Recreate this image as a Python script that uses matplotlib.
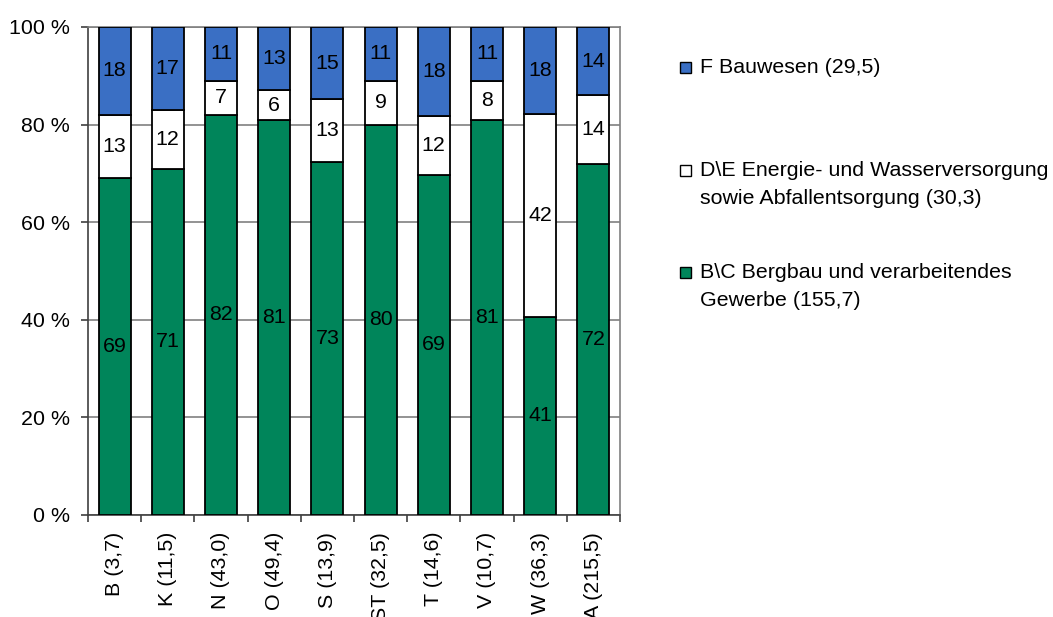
import matplotlib
matplotlib.use("Agg")
import matplotlib.pyplot as plt
from matplotlib.patches import Rectangle
import numpy as np

plt.rcParams['font.family'] = ['Liberation Sans', 'DejaVu Sans']

categories = ["B (3,7)", "K (11,5)", "N (43,0)", "O (49,4)", "S (13,9)",
              "ST (32,5)", "T (14,6)", "V (10,7)", "W (36,3)", "A (215,5)"]
bc_values = [69, 71, 82, 81, 73, 80, 69, 81, 41, 72]
de_values = [13, 12, 7, 6, 13, 9, 12, 8, 42, 14]
f_values = [18, 17, 11, 13, 15, 11, 18, 11, 18, 14]
series_labels = ["F Bauwesen (29,5)",
                 "D\\E Energie- und Wasserversorgung\nsowie Abfallentsorgung (30,3)",
                 "B\\C Bergbau und verarbeitendes\nGewerbe (155,7)"]
y_ticks = [0, 20, 40, 60, 80, 100]
y_tick_labels = ["0 %", "20 %", "40 %", "60 %", "80 %", "100 %"]

green = "#00855A"
blue = "#3A6FC4"
white = "#FFFFFF"
fs = 15.4

W, H = 1053, 617
fig = plt.figure(figsize=(W / 100, H / 100), dpi=100)
ax = fig.add_axes([88 / W, (H - 515) / H, (620 - 88) / W, (515 - 27) / H])

bc = np.array(bc_values, float)
de = np.array(de_values, float)
ff = np.array(f_values, float)
tot = bc + de + ff
bcp, dep, ffp = bc / tot * 100, de / tot * 100, ff / tot * 100
x = np.arange(len(categories))
bw = 0.6

ax.bar(x, bcp, bw, color=green, edgecolor="black", linewidth=1.3, zorder=3)
ax.bar(x, dep, bw, bottom=bcp, color=white, edgecolor="black", linewidth=1.3, zorder=3)
ax.bar(x, ffp, bw, bottom=bcp + dep, color=blue, edgecolor="black", linewidth=1.3, zorder=3)

for i in range(len(x)):
    ax.text(x[i], bcp[i] / 2, f"{bc_values[i]}", ha="center", va="center", fontsize=fs, zorder=4)
    ax.text(x[i], bcp[i] + dep[i] / 2, f"{de_values[i]}", ha="center", va="center", fontsize=fs, zorder=4)
    ax.text(x[i], bcp[i] + dep[i] + ffp[i] / 2, f"{f_values[i]}", ha="center", va="center", fontsize=fs, zorder=4)

ax.set_xlim(-0.5, len(categories) - 0.5)
ax.set_ylim(0, 100)
ax.set_yticks(y_ticks)
ax.set_yticklabels(y_tick_labels, fontsize=fs)
ax.yaxis.grid(True, color="#808080", linewidth=1.2, zorder=0)
ax.tick_params(axis="y", length=5, width=1.2, color="#404040", pad=8)

ax.set_xticks(x)
ax.set_xticklabels(categories, rotation=90, fontsize=fs, va="top")
ax.tick_params(axis="x", which="major", length=0, pad=12)
ax.set_xticks(np.arange(-0.5, len(categories), 1), minor=True)
ax.tick_params(axis="x", which="minor", length=5, width=1.2, color="#404040")

for s in ["left", "bottom"]:
    ax.spines[s].set_color("#404040")
    ax.spines[s].set_linewidth(1.2)
for s in ["top", "right"]:
    ax.spines[s].set_color("#808080")
    ax.spines[s].set_linewidth(1.2)

# legend (entries placed by baseline of first line, in pixels from top)
legend_colors = [blue, white, green]
legend_baselines = [73, 176, 278]
line_step = 28
for c, lab, yb in zip(legend_colors, series_labels, legend_baselines):
    fig.patches.append(Rectangle((680 / W, (H - yb) / H), 11 / W, 11 / H,
                                 transform=fig.transFigure, facecolor=c,
                                 edgecolor="black", linewidth=1.0))
    for k, line in enumerate(lab.split("\n")):
        fig.text(700 / W, (H - yb - k * line_step) / H, line, fontsize=fs,
                 va="baseline", ha="left")

fig.savefig("out.png", dpi=100)
